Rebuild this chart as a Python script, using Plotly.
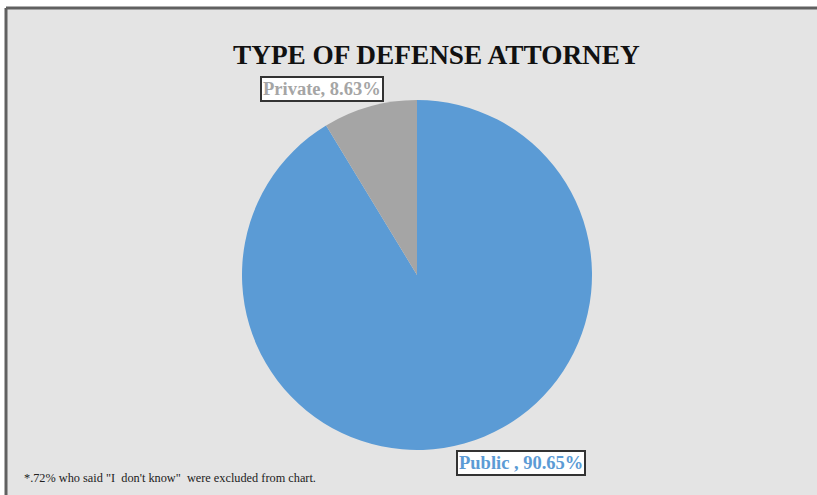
import plotly.graph_objects as go

labels = ["Public", "Private"]
values = [90.65, 8.63]
colors = ["#5B9BD5", "#A5A5A5"]
label_texts = ["Public , 90.65%", "Private, 8.63%"]
title_text = "TYPE OF DEFENSE ATTORNEY"
footnote = "*.72% who said \"I  don't know\"  were excluded from chart."

W, H = 817, 495

def px(x):
    return x / W

def py(y):
    return 1 - y / H

fig = go.Figure()
fig.add_trace(go.Pie(
    labels=labels, values=values, sort=False, direction="clockwise", rotation=0,
    marker=dict(colors=colors, line=dict(width=0)),
    textinfo="none", showlegend=False,
    domain=dict(x=[px(242), px(592)], y=[py(450), py(100)]),
))

shapes = [
    dict(type="rect", xref="paper", yref="paper", x0=px(7), x1=1, y0=0, y1=py(8),
         fillcolor="#E4E4E4", line=dict(width=0), layer="below"),
    dict(type="line", xref="paper", yref="paper", x0=px(6), x1=1, y0=py(8), y1=py(8),
         line=dict(color="#606060", width=3)),
    dict(type="line", xref="paper", yref="paper", x0=px(6), x1=px(6), y0=0, y1=py(8),
         line=dict(color="#606060", width=3)),
]

annotations = [
    dict(text="<b>" + title_text + "</b>", x=px(437), y=py(55), xref="paper", yref="paper",
         xanchor="center", yanchor="middle",
         showarrow=False, font=dict(family="Liberation Serif", size=27.3, color="#111111")),
    dict(text="<b>" + label_texts[0] + "</b>", x=px(521), y=py(463), xref="paper", yref="paper",
         xanchor="center", yanchor="middle",
         showarrow=False, font=dict(family="Liberation Serif", size=18.5, color=colors[0]),
         bgcolor="white", bordercolor="#333333", borderwidth=2, borderpad=1),
    dict(text="<b>" + label_texts[1] + "</b>", x=px(322), y=py(89), xref="paper", yref="paper",
         xanchor="center", yanchor="middle",
         showarrow=False, font=dict(family="Liberation Serif", size=18.5, color=colors[1]),
         bgcolor="white", bordercolor="#333333", borderwidth=2, borderpad=1),
    dict(text=footnote, x=px(22), y=py(478), xref="paper", yref="paper",
         xanchor="left", yanchor="middle",
         showarrow=False, font=dict(family="Liberation Serif", size=12.3, color="#222222")),
]

fig.update_layout(
    width=W, height=H, margin=dict(l=0, r=0, t=0, b=0),
    paper_bgcolor="white", plot_bgcolor="white",
    shapes=shapes, annotations=annotations,
)

fig.write_html("out.html", config={"displayModeBar": False},
               post_script="document.body.style.margin='0';document.body.style.overflow='hidden';")
